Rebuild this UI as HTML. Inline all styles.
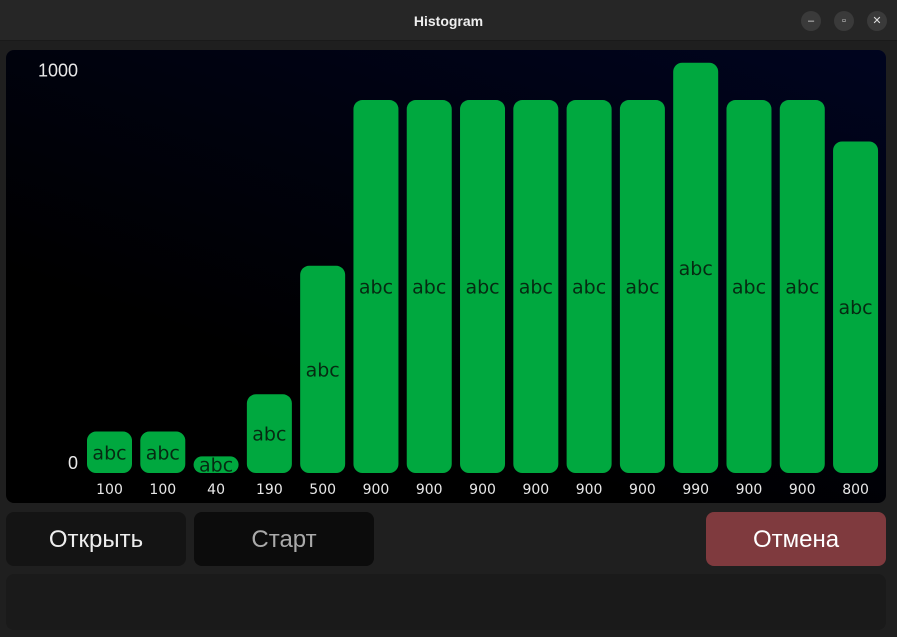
<!DOCTYPE html>
<html><head><meta charset="utf-8"><style>
body{margin:0;width:897px;height:637px;background:#1f1f1f;font-family:"Liberation Sans","DejaVu Sans",sans-serif;overflow:hidden;position:relative}
#titlebar{position:absolute;left:0;top:0;width:897px;height:40px;background:#262626;border-bottom:1px solid #1a1a1a}
#title{position:absolute;left:0;width:897px;top:13px;text-align:center;color:#eee;font-weight:bold;font-size:14px}
.wc{position:absolute;top:11px;width:20px;height:20px;border-radius:50%;background:#3a3a3a;color:#ddd;font-size:11px;text-align:center;line-height:20px}
#chart{position:absolute;left:6px;top:50px;width:880px;height:453px;border-radius:8px;background:linear-gradient(20deg,#000 30%,#00041f 100%)}
.btn{position:absolute;top:512px;width:180px;height:54px;border-radius:8px;font-size:24px;text-align:center;line-height:56px}
#status{position:absolute;left:6px;top:574px;width:880px;height:56px;border-radius:8px;background:#1a1a1a}
</style></head><body>
<div id="titlebar">
<div id="title">Histogram</div>
<div class="wc" style="left:801px">–</div>
<div class="wc" style="left:834px">▫</div>
<div class="wc" style="left:867px">✕</div>
</div>
<div id="chart">
<svg id="svg" width="880" height="453" style="position:absolute;left:0;top:0"></svg>
</div>
<div class="btn" style="left:6px;background:#141414;color:#eee">Открыть</div>
<div class="btn" style="left:194px;background:#0c0c0c;color:#aaa">Старт</div>
<div class="btn" style="left:706px;background:#7f3a3e;color:#fff">Отмена</div>
<div id="status"></div>
<script>
const values=[100,100,40,190,500,900,900,900,900,900,900,990,900,900,800];
const barLabels=["abc","abc","abc","abc","abc","abc","abc","abc","abc","abc","abc","abc","abc","abc","abc"];
const yTicks=[0,1000];
const NS="http://www.w3.org/2000/svg";
const svg=document.getElementById('svg');
const base=423, scale=0.4144;
function y(v){return base-v*scale;}
function x(i){return 81+i*53.29;}
const bw=45;
function mk(t,a){const e=document.createElementNS(NS,t);for(const k in a)e.setAttribute(k,a[k]);svg.appendChild(e);return e;}
yTicks.forEach(t=>{
 const e=mk('text',{x:72,y:t===0?y(t)-4:y(t)+18,'text-anchor':'end',fill:'#e8e8e8','font-size':18,'font-family':'Liberation Sans, sans-serif'});
 e.textContent=t;
 
 
});
values.forEach((v,i)=>{
 const h=v*scale, r=Math.min(9,h/2);
 const b=mk('rect',{x:x(i),y:y(v),width:bw,height:h,rx:r,ry:r,fill:'#00a83f'});
 
 
 const l=mk('text',{x:x(i)+bw/2,y:y(v)+h/2+7,'text-anchor':'middle',fill:'#062a12','font-size':19,'font-family':'DejaVu Sans, sans-serif'});
 l.textContent=barLabels[i];
 
 
 const c=mk('text',{x:x(i)+bw/2,y:base+21,'text-anchor':'middle',fill:'#e8e8e8','font-size':14,'font-family':'DejaVu Sans, sans-serif'});
 c.textContent=v;
 
 
});
</script>
</body></html>
